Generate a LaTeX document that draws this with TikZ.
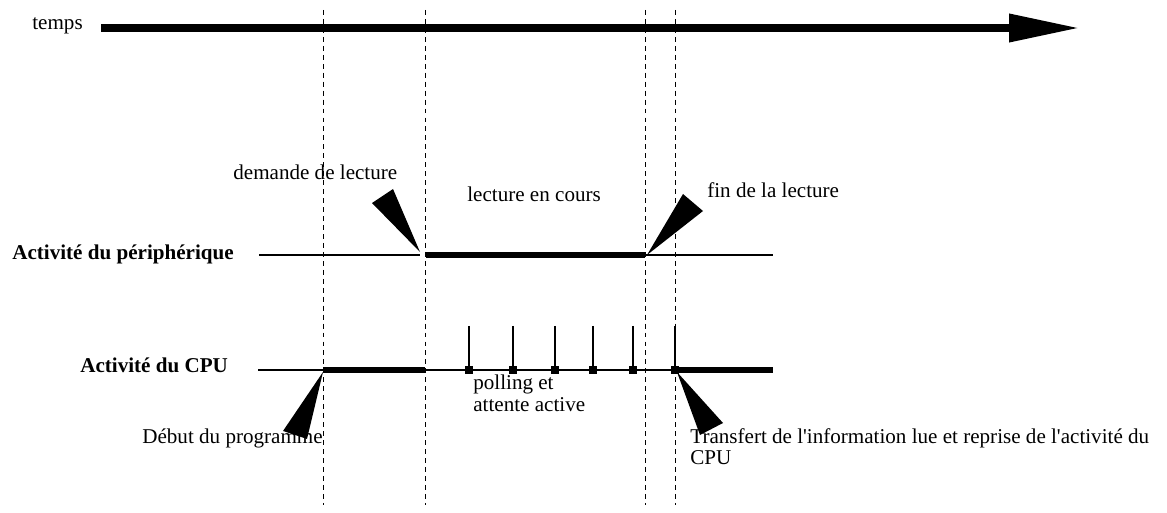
\documentclass[tikz,border=0pt]{standalone}
\usepackage{fontspec}
\setmainfont{Liberation Serif}
\usetikzlibrary{arrows.meta}

\begin{document}
\begin{tikzpicture}[x=0.02cm, y=-0.02cm,
        txt/.style={anchor=base west, inner sep=0pt, font=\fontsize{12}{14}\selectfont},
        title/.style={txt, font=\fontsize{12}{14}\selectfont\bfseries},
        timeline/.style={line width=4pt, -{Triangle[length=1.4cm, width=0.54cm]}},
        event/.style={line width=0.5pt, dash pattern=on 2.8pt off 2.3pt},
        idle/.style={line width=0.6pt},
        busy/.style={line width=3.4pt},
        pointer/.style={fill=black},
        tick/.style={line width=0.6pt}
    ]
        \useasboundingbox (0,0) rectangle (1167,513);

        % time axis
        \node[txt] (temps) at (32,30) {temps};
        \coordinate (t0) at (101,28);
        \coordinate (t1) at (1079,28);
        \draw[timeline] (t0) -- (t1);

        % event markers
        \foreach \x in {323, 425, 645, 675}
            \draw[event] (\x,10) -- (\x,505);

        % device activity
        \node[title] (periph) at (12,260) {Activité du périphérique};
        \draw[idle] (259,255) -- (420,255);
        \draw[busy] (426,255) -- (645,255);
        \draw[idle] (645,255) -- (773,255);

        % cpu activity
        \node[title] (cpu) at (80,373) {Activité du CPU};
        \draw[idle] (258,370) -- (773,370);
        \draw[busy] (323,370) -- (425,370);
        \draw[busy] (675,370) -- (773,370);

        % polling ticks
        \foreach \x in {469, 513, 555, 593, 633, 675} {
            \draw[tick] (\x,326) -- (\x,370);
            \fill (\x-4,366) rectangle (\x+4,374);
        }

        % labels
        \node[txt] (demande) at (233,180) {demande de lecture};
        \node[txt] (encours) at (467,202) {lecture en cours};
        \node[txt] (fin) at (707,198) {fin de la lecture};
        \node[txt] (polling) at (473,389) {polling et};
        \node[txt] (attente) at (473,412) {attente active};
        \node[txt] (debut) at (142,443) {Début du programme};
        \node[txt] (transfert) at (690,443) {Transfert de l\textquotesingle information lue et reprise de l\textquotesingle activité du};
        \node[txt] (transfert2) at (690,464) {CPU};

        % pointers
        \coordinate (pdemande) at (420,252);
        \coordinate (pfin) at (647,255);
        \coordinate (pdebut) at (323,372);
        \coordinate (ptransfert) at (677,372);
        \fill[pointer] (pdemande) -- (372,203) -- (393,189) -- cycle;
        \fill[pointer] (pfin) -- (683,194) -- (703,211) -- cycle;
        \fill[pointer] (pdebut) -- (283,431) -- (307,439) -- cycle;
        \fill[pointer] (ptransfert) -- (700,435) -- (723,423) -- cycle;
    \end{tikzpicture}
\end{document}
